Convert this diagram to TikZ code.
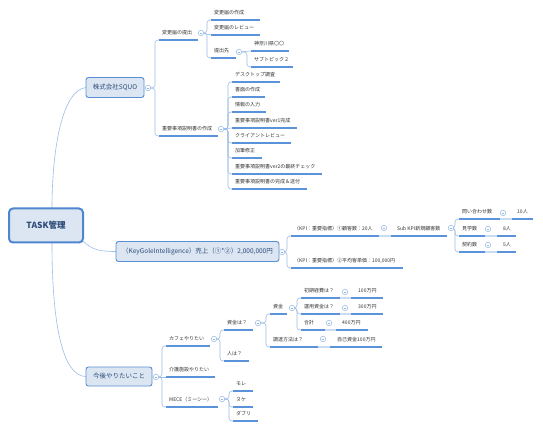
\documentclass[tikz,border=0pt]{standalone}
\usepackage{fontspec}
\setmainfont{Noto Sans CJK JP}
\usetikzlibrary{calc}
\definecolor{txt}{HTML}{333333}
\definecolor{topt}{HTML}{2C4A78}
\definecolor{topf}{HTML}{DCE6F3}
\definecolor{topb}{HTML}{5A8FD2}
\definecolor{rootb}{HTML}{4F87CF}
\definecolor{connc}{HTML}{9DBDE8}
\definecolor{ulc}{HTML}{5B93DA}
\definecolor{palec}{HTML}{C9DCF2}
\definecolor{knobc}{HTML}{93B6E4}
\newcommand\tp[5]{%
  \coordinate (#1-t) at (#2,#3);
  \coordinate (#1-s) at (#2+4,#3);
  \coordinate (#1-e) at (#4,#3);
  \node[leaf] (#1) at (#2+7,#3-7.5) {#5};
  \draw[ul] (#1-s) -- (#1-e);}
\newcommand\inl[7]{%
  \coordinate (#2-s) at (#3,#4);
  \coordinate (#2-e) at (#5,#4);
  \node[leaf] (#2) at (#6,#4-7.5) {#7};
  \draw[pale] (#1-e) -- (#2-s);
  \draw[ul] (#2-s) -- (#2-e);}
\newcommand\br[2]{\draw[conn] (#1) -- (#1 -| #2-t) |- (#2-s);}
\newcommand\brs[2]{\draw[conn,sharp corners] (#1) -- (#2-s);}
\begin{document}
\begin{tikzpicture}[x=1pt,y=-1pt,
  leaf/.style={anchor=west, inner sep=0pt, font=\fontsize{5}{6}\selectfont, text=txt},
  maintopic/.style={draw=topb, fill=topf, rounded corners=2.5pt, line width=0.9pt,
    font=\fontsize{6.5}{8}\selectfont, text=topt, inner sep=0pt},
  rootbox/.style={draw=rootb, fill=topf, rounded corners=4pt, line width=2pt,
    font=\fontsize{8.5}{10}\selectfont\bfseries, text=topt, inner sep=0pt},
  conn/.style={draw=connc, line width=0.6pt, rounded corners=3pt},
  ul/.style={draw=ulc, line width=1.1pt},
  pale/.style={draw=palec, line width=1.1pt},
  knob/.style={circle, draw=knobc, fill=white, minimum size=5.5pt, inner sep=0pt, line width=0.5pt,
    path picture={\draw[knobc,line width=0.5pt] ($(path picture bounding box.center)+(-1.4,0)$) -- ($(path picture bounding box.center)+(1.4,0)$);}}
]
\fill[white] (0,0) rectangle (543,430);
\useasboundingbox (0,0) rectangle (543,430);

% root and main topics
\coordinate (r1) at (52,208);
\coordinate (r2) at (83,241);
\coordinate (r3) at (52,243);
\coordinate (t1) at (86,87.5);
\coordinate (t2) at (116,251.5);
\coordinate (t3) at (86,376.5);
\draw[conn] (r1) .. controls (52,150) and (62,90) .. (t1);
\draw[conn] (r2) .. controls (92,250) and (100,251.5) .. (t2);
\draw[conn] (r3) .. controls (52,330) and (64,376.5) .. (t3);
\node[rootbox, minimum width=74, minimum height=34] (root) at (46,225.5) {TASK管理};
\node[maintopic, minimum width=58, minimum height=20] (top1) at (115,87.5) {株式会社SQUO};
\node[maintopic, minimum width=163, minimum height=20] (top2) at (197.5,251.5) {（KeyGoleIntelligence）売上（①*②）2,000,000円};
\node[maintopic, minimum width=66, minimum height=19] (top3) at (119,376.5) {今後やりたいこと};

% knob coordinates
\coordinate (K1) at (148,88);
\coordinate (Ka1) at (201,33);
\coordinate (Ka13) at (239,52);
\coordinate (Ka2) at (221,129);
\coordinate (K2) at (282,252);
\coordinate (Kc1) at (384,228);
\coordinate (Kc11) at (451,228);
\coordinate (Kd1) at (503,213);
\coordinate (Kd2) at (488,229);
\coordinate (Kd3) at (488,245);
\coordinate (K3) at (156,377);
\coordinate (Ke1) at (214,339);
\coordinate (Ke3) at (222,399);
\coordinate (Kf1) at (258,323);
\coordinate (Kg1) at (292,308);
\coordinate (Kg2) at (323,339);
\coordinate (Kh1) at (345,292);
\coordinate (Kh2) at (345,308);
\coordinate (Kh3) at (329,323);

% branch 1
\tp{a1}{155}{40}{198}{変更届の提出}
\tp{a11}{207}{20}{260}{変更届の作成}
\tp{a12}{207}{35}{260}{変更届のレビュー}
\tp{a13}{207}{58}{236}{提出先}
\tp{a131}{247}{51}{289}{神奈川県〇〇}
\tp{a132}{247}{67}{293}{サブトピック２}
\tp{a2}{155}{136}{218}{重要事項説明書の作成}
\tp{b1}{228}{82}{280}{デスクトップ調査}
\tp{b2}{228}{97}{265}{書面の作成}
\tp{b3}{228}{112}{266}{情報の入力}
\tp{b4}{228}{128}{297}{重要事項説明書ver1完成}
\tp{b5}{228}{143}{291}{クライアントレビュー}
\tp{b6}{228}{158}{262}{加筆修正}
\tp{b7}{228}{174}{322}{重要事項説明書ver2の最終チェック}
\tp{b8}{228}{189}{307}{重要事項説明書の完成＆送付}
\br{K1}{a1}
\br{K1}{a2}
\br{Ka1}{a11}
\brs{Ka1}{a12}
\br{Ka1}{a13}
\brs{Ka13}{a131}
\br{Ka13}{a132}
\br{Ka2}{b1}
\br{Ka2}{b2}
\br{Ka2}{b3}
\brs{Ka2}{b4}
\br{Ka2}{b5}
\br{Ka2}{b6}
\br{Ka2}{b7}
\br{Ka2}{b8}

% branch 2
\tp{c1}{287}{236}{379}{（KPI：重要指標）①顧客数：20人}
\inl{c1}{c11}{391}{236}{447}{397}{Sub KPI新規顧客数}
\tp{c2}{287}{268}{403}{（KPI：重要指標）②平均客単価：100,000円}
\tp{d1}{455}{219}{500}{問い合わせ数}
\inl{d1}{d11}{512}{219}{533}{517}{10人}
\tp{d2}{455}{236}{485}{見学数}
\inl{d2}{d21}{497}{236}{516}{503}{8人}
\tp{d3}{455}{252}{485}{契約数}
\inl{d3}{d31}{497}{252}{516}{503}{5人}
\br{K2}{c1}
\br{K2}{c2}
\br{Kc11}{d1}
\br{Kc11}{d2}
\br{Kc11}{d3}

% branch 3
\tp{e1}{162}{346}{210}{カフェやりたい}
\tp{e2}{162}{377}{215}{介護施設やりたい}
\tp{e3}{162}{407}{218}{MECE（ミーシー）}
\tp{f1}{220}{330}{253}{資金は？}
\tp{f2}{220}{361}{249}{人は？}
\tp{g1}{266}{314}{287}{資金}
\tp{g2}{266}{347}{318}{調達方法は？}
\inl{g2}{g21}{330}{347}{382}{337}{自己資金100万円}
\tp{h1}{297}{298}{340}{初期経費は？}
\inl{h1}{h11}{351}{298}{383}{358}{100万円}
\tp{h2}{297}{314}{340}{運用資金は？}
\inl{h2}{h21}{351}{314}{383}{358}{300万円}
\tp{h3}{297}{330}{325}{合計}
\inl{h3}{h31}{336}{330}{368}{342}{400万円}
\tp{m1}{229}{391}{253}{モレ}
\tp{m2}{229}{407}{253}{ヌケ}
\tp{m3}{229}{421}{258}{ダブリ}
\br{K3}{e1}
\brs{K3}{e2}
\br{K3}{e3}
\br{Ke1}{f1}
\br{Ke1}{f2}
\br{Kf1}{g1}
\br{Kf1}{g2}
\br{Kg1}{h1}
\br{Kg1}{h2}
\br{Kg1}{h3}
\br{Ke3}{m1}
\br{Ke3}{m2}
\br{Ke3}{m3}

% knobs
\foreach \k in {K1,Ka1,Ka13,Ka2,K2,Kc1,Kc11,Kd1,Kd2,Kd3,K3,Ke1,Ke3,Kf1,Kg1,Kg2,Kh1,Kh2,Kh3}
  \node[knob] (\k-o) at (\k) {};
\end{tikzpicture}
\end{document}
